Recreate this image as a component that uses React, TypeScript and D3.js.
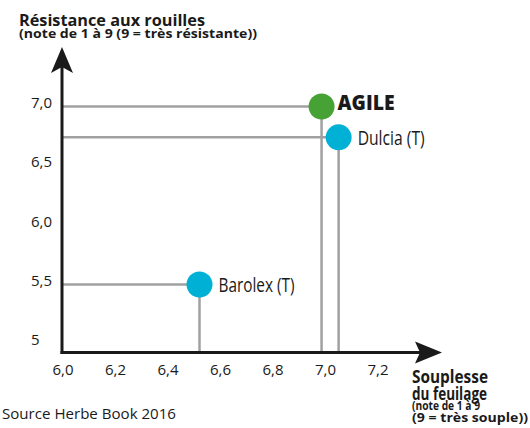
import React from 'react';
import * as d3 from 'd3';

// data
const varieties = ['AGILE', 'Dulcia (T)', 'Barolex (T)'];
const souplesse = [6.985, 7.05, 6.52];
const resistance = [7.0, 6.74, 5.5];
const highlight = [true, false, false];

const xTicks = [6.0, 6.2, 6.4, 6.6, 6.8, 7.0, 7.2];
const yTicks = [7.0, 6.5, 6.0, 5.5, 5];
const yTickLabels = ['7,0', '6,5', '6,0', '5,5', '5'];

const W = 530;
const H = 428;
const font = '"Open Sans", "DejaVu Sans", sans-serif';

const App = () => {
  const x = d3.scaleLinear().domain([6.0, 7.2]).range([63, 378]);
  const y = d3.scaleLinear().domain([5, 7]).range([343.8, 106.5]);

  const axisX = 62;
  const axisY = 352.5;
  const fmt = (v: number) => d3.format('.1f')(v).replace('.', ',');

  const blue = '#00b1d5';
  const green = '#47a236';
  const grey = '#a0a0a0';
  const ink = '#1a1a1a';

  // label widths measured on the reference (condensed face)
  const labelWidths = [57, 67, 76];

  return (
    <svg width={W} height={H} style={{ position: 'absolute', left: 0, top: 0, background: '#fff' }}>
      {/* titles */}
      <text x={19} y={25.5} fontFamily={font} fontWeight={700} fontSize={16} fill={ink} textLength={186} lengthAdjust="spacingAndGlyphs">
        Résistance aux rouilles
      </text>
      <text x={19} y={37.5} fontFamily={font} fontWeight={700} fontSize={12} fill={ink} textLength={238} lengthAdjust="spacingAndGlyphs">
        (note de 1 à 9 (9 = très résistante))
      </text>

      {/* guide lines */}
      {varieties.map((name, i) => (
        <g key={'g' + name} stroke={grey} strokeWidth={2.5}>
          <line x1={axisX} x2={x(souplesse[i])} y1={y(resistance[i])} y2={y(resistance[i])} />
          <line x1={x(souplesse[i])} x2={x(souplesse[i])} y1={y(resistance[i])} y2={axisY} />
        </g>
      ))}

      {/* axes */}
      <line x1={axisX} x2={axisX} y1={axisY + 1.5} y2={60} stroke={ink} strokeWidth={3} />
      <path d={`M${axisX},47 L${axisX + 11},73 L${axisX},67 L${axisX - 11},73 Z`} fill={ink} />
      <line x1={axisX - 1.5} x2={428} y1={axisY} y2={axisY} stroke={ink} strokeWidth={3} />
      <path d={`M442,${axisY} L415,${axisY + 11} L420,${axisY} L415,${axisY - 11} Z`} fill={ink} />

      {/* y tick labels (left aligned in the reference) */}
      {yTicks.map((v, i) => (
        <text key={'y' + v} x={31} y={y(v) - 4} dy="0.36em" textAnchor="start" fontFamily={font} fontSize={15} fill={ink}>
          {yTickLabels[i]}
        </text>
      ))}

      {/* x tick labels */}
      {xTicks.map((v) => (
        <text key={'x' + v} x={x(v)} y={375} textAnchor="middle" fontFamily={font} fontSize={15} fill={ink}>
          {fmt(v)}
        </text>
      ))}

      {/* points */}
      {varieties.map((name, i) => (
        <circle key={'c' + name} cx={x(souplesse[i])} cy={y(resistance[i])} r={13} fill={highlight[i] ? green : blue} />
      ))}

      {/* point labels */}
      {varieties.map((name, i) => (
        <text
          key={'l' + name}
          x={x(souplesse[i]) + (highlight[i] ? 16 : 19)}
          y={y(resistance[i]) + (highlight[i] ? 3.5 : 8)}
          fontFamily={font}
          fontWeight={highlight[i] ? 800 : 400}
          fontSize={highlight[i] ? 21 : 20}
          fill={ink}
          textLength={labelWidths[i]}
          lengthAdjust="spacingAndGlyphs"
        >
          {name}
        </text>
      ))}

      {/* x axis title */}
      <text fontFamily={font} fontWeight={700} fill={ink}>
        <tspan x={412} y={382.5} fontSize={18} textLength={76} lengthAdjust="spacingAndGlyphs">Souplesse</tspan>
        <tspan x={412} y={399.5} fontSize={18} textLength={75} lengthAdjust="spacingAndGlyphs">du feuilage</tspan>
        <tspan x={412} y={410} fontSize={12.5} textLength={68} lengthAdjust="spacingAndGlyphs">(note de 1 à 9</tspan>
        <tspan x={412} y={421.5} fontSize={12.5} textLength={116} lengthAdjust="spacingAndGlyphs">(9 = très souple))</tspan>
      </text>

      <text x={2} y={419} fontFamily={font} fontSize={15} fill={ink} textLength={174} lengthAdjust="spacingAndGlyphs">
        Source Herbe Book 2016
      </text>
    </svg>
  );
};

export default App;
